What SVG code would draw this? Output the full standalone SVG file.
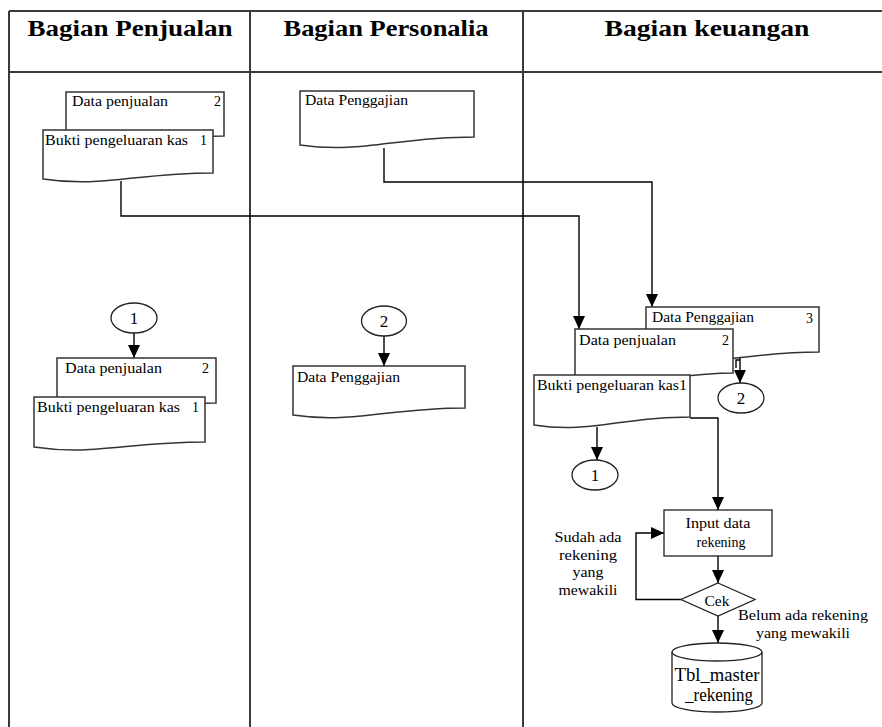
<svg xmlns="http://www.w3.org/2000/svg" width="882" height="727" viewBox="0 0 882 727">
<defs>
<marker id="ah" markerUnits="userSpaceOnUse" markerWidth="14" markerHeight="14" viewBox="0 0 14 14" refX="13" refY="7" orient="auto">
<path d="M0,1 L13,7 L0,13 Z" fill="#000"/>
</marker>
</defs>
<style>
.tbl{stroke:#3a3a3a;stroke-width:2;fill:none}
text{font-family:'Liberation Serif','Times New Roman','DejaVu Serif',serif;fill:#000}
.hd{font-weight:bold;font-size:23px;text-anchor:middle}
.t{font-size:14px}
.c{text-anchor:middle}
.doc{fill:#fff;stroke:#333;stroke-width:1.5}
.sh{fill:#fff;stroke:#222;stroke-width:1.3}
.ln{fill:none;stroke:#000;stroke-width:1.4}
.ar{fill:none;stroke:#000;stroke-width:1.4;marker-end:url(#ah)}
</style>
<rect width="882" height="727" fill="#fff"/>
<g id="table">
<path class="tbl" d="M9,11 H882 M9,72 H882 M9,11 V727 M250,11 V727 M523,11 V727"/>
<text class="hd" x="130" y="36" font-family="Liberation Serif, serif" textLength="205" lengthAdjust="spacingAndGlyphs">Bagian Penjualan</text>
<text class="hd" x="386" y="36" font-family="Liberation Serif, serif" textLength="205" lengthAdjust="spacingAndGlyphs">Bagian Personalia</text>
<text class="hd" x="707" y="36" font-family="Liberation Serif, serif" textLength="205" lengthAdjust="spacingAndGlyphs">Bagian keuangan</text>
</g>
<g id="connectors">
<path class="ar" d="M121,181 V216 H579 V329"/>
<path class="ar" d="M384,148 V182 H652 V307"/>
<path class="ar" d="M134,333 V358"/>
<path class="ar" d="M384,336 V366"/>
<path class="ar" d="M740,358 V383"/>
<path class="ln" d="M736,368 V360 H740"/>
<path class="ar" d="M597,427 V460"/>
<path class="ar" d="M690,418 H718 V510"/>
<path class="ar" d="M718,556 V583"/>
<path class="ar" d="M681,599.5 H636 V533 H664"/>
<path class="ar" d="M718,616 V643"/>
</g>
<g id="doc-penjualan-1" font-family="Liberation Serif, serif">
<path class="doc" d="M66,92 H224 V136 C167,136 121,151 66,142 Z"/>
<text class="t" x="72" y="106" textLength="96" lengthAdjust="spacingAndGlyphs">Data penjualan</text>
<text class="t" x="214" y="106">2</text>
</g>
<g id="doc-bukti-1">
<path class="doc" d="M43,130 H213 V173 C136,173 102,188 43,179 Z"/>
<text class="t" x="45" y="145" textLength="143" lengthAdjust="spacingAndGlyphs">Bukti pengeluaran kas</text>
<text class="t" x="200" y="145">1</text>
</g>
<g id="doc-penggajian-1">
<path class="doc" d="M300,91 H474 V137 C396,137 361,154 300,145 Z"/>
<text class="t" x="305" y="105" textLength="103" lengthAdjust="spacingAndGlyphs">Data Penggajian</text>
</g>
<g id="conn-1-left">
<ellipse class="sh" cx="134" cy="318" rx="23" ry="15"/>
<text class="t c" x="134" y="324" style="font-size:17px">1</text>
</g>
<g id="doc-penjualan-2">
<path class="doc" d="M57,358 H216 V403 C158,403 113,418 57,409 Z"/>
<text class="t" x="65" y="373" textLength="97" lengthAdjust="spacingAndGlyphs">Data penjualan</text>
<text class="t" x="202" y="373">2</text>
</g>
<g id="doc-bukti-2">
<path class="doc" d="M34,397 H205 V442 C128,442 94,456 34,447 Z"/>
<text class="t" x="37" y="412" textLength="143" lengthAdjust="spacingAndGlyphs">Bukti pengeluaran kas</text>
<text class="t" x="192" y="412">1</text>
</g>
<g id="conn-2-mid">
<ellipse class="sh" cx="384" cy="321" rx="22.5" ry="15"/>
<text class="t c" x="384" y="327" style="font-size:17px">2</text>
</g>
<g id="doc-penggajian-2">
<path class="doc" d="M293,366 H465 V408 C388,408 353,424 293,415 Z"/>
<text class="t" x="297" y="382" textLength="103" lengthAdjust="spacingAndGlyphs">Data Penggajian</text>
</g>
<g id="doc-penggajian-3">
<path class="doc" d="M646,307 H819 V352 C741,352 706,369 646,360 Z"/>
<text class="t" x="652" y="322" textLength="102" lengthAdjust="spacingAndGlyphs">Data Penggajian</text>
<text class="t" x="806" y="323">3</text>
</g>
<g id="doc-penjualan-3">
<path class="doc" d="M575,329 H733 V373 C676,373 630,389 575,380 Z"/>
<text class="t" x="579" y="345" textLength="97" lengthAdjust="spacingAndGlyphs">Data penjualan</text>
<text class="t" x="722" y="345">2</text>
</g>
<g id="doc-bukti-3">
<path class="doc" d="M534,375 H690 V417 C620,417 589,434 534,425 Z"/>
<text class="t" x="537" y="390" textLength="150" lengthAdjust="spacingAndGlyphs">Bukti pengeluaran kas1</text>
</g>
<g id="conn-2-right">
<ellipse class="sh" cx="741" cy="398" rx="23" ry="15"/>
<text class="t c" x="741" y="404" style="font-size:17px">2</text>
</g>
<g id="conn-1-right">
<ellipse class="sh" cx="595" cy="475" rx="23" ry="15"/>
<text class="t c" x="595" y="481" style="font-size:17px">1</text>
</g>
<g id="input-data">
<rect class="sh" x="664" y="510" width="108" height="46"/>
<text class="t c" x="718" y="528" textLength="65" lengthAdjust="spacingAndGlyphs">Input data</text>
<text class="t c" x="721" y="547" textLength="49" lengthAdjust="spacingAndGlyphs">rekening</text>
</g>
<g id="cek">
<path class="sh" d="M718,583 L755,599.5 L718,616 L681,599.5 Z"/>
<text class="t c" x="717" y="606" textLength="25" lengthAdjust="spacingAndGlyphs">Cek</text>
</g>
<g id="label-sudah">
<text class="t c" x="588" y="542" textLength="67" lengthAdjust="spacingAndGlyphs">Sudah ada</text>
<text class="t c" x="588" y="560" textLength="58" lengthAdjust="spacingAndGlyphs">rekening</text>
<text class="t c" x="588" y="577" textLength="31" lengthAdjust="spacingAndGlyphs">yang</text>
<text class="t c" x="588" y="595" textLength="59" lengthAdjust="spacingAndGlyphs">mewakili</text>
</g>
<g id="label-belum">
<text class="t c" x="803" y="620" textLength="130" lengthAdjust="spacingAndGlyphs">Belum ada rekening</text>
<text class="t c" x="803" y="638" textLength="94" lengthAdjust="spacingAndGlyphs">yang mewakili</text>
</g>
<g id="tbl-master-rekening">
<path class="sh" d="M672,652 A45,9 0 0 1 762,652 V703 A45,9 0 0 1 672,703 Z"/>
<path class="sh" d="M672,652 A45,9 0 0 0 762,652"/>
<text class="t c" x="717" y="681" style="font-size:19px" textLength="85" lengthAdjust="spacingAndGlyphs">Tbl_master</text>
<text class="t c" x="719" y="701" style="font-size:19px" textLength="68" lengthAdjust="spacingAndGlyphs">_rekening</text>
</g>
</svg>
